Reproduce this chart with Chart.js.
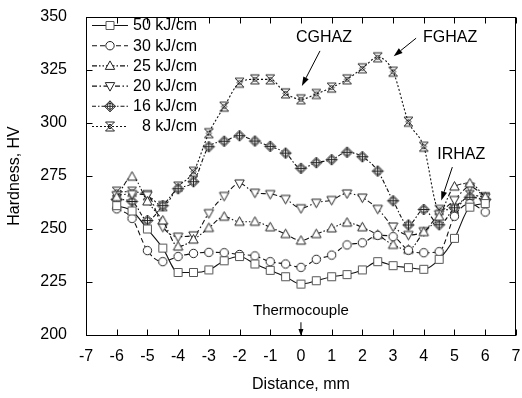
<!DOCTYPE html>
<html><head><meta charset="utf-8">
<script src="https://cdn.jsdelivr.net/npm/chart.js@4/dist/chart.umd.min.js"></script>
<style>html,body{margin:0;padding:0;background:#fff}canvas{display:block}</style>
</head><body>
<canvas id="c" width="522" height="398"></canvas>
<script>
// ---- data ----
const distance = [-6,-5.5,-5,-4.5,-4,-3.5,-3,-2.5,-2,-1.5,-1,-0.5,0,0.5,1,1.5,2,2.5,3,3.5,4,4.5,5,5.5,6];
const hv50 = [261,258.5,250,241,229.5,229.5,230.7,235,237,233.5,230.5,227.5,224,225.6,227.5,228.5,230.7,234.6,232.7,231.8,231,235.7,245.6,260.3,262];
const hv30 = [259.5,255,239.8,234.6,237,238.5,239,238.8,238,237.3,234.6,233.5,231.9,235.7,237.7,242.5,243.5,247,246.4,240,238.8,239.3,256,262,258];
const hv25 = [265,274.7,263,254,241.7,245,250.5,255.8,253.4,253.4,250.8,247.6,244.5,247.6,250.3,253,250.8,247.2,242.5,240.2,248.5,255.8,270,271.5,265];
const hv20 = [266,266.5,266,251,246.4,247,257.5,265.6,271.5,267.1,266.5,264.2,259.8,262.4,263.7,266.8,264.8,259.5,251.2,247.2,249,257,263.7,270,265];
const hv16 = [264,263,254,261,269,272.3,288.8,291.4,294,291.5,289,285.8,278.6,281.3,282.7,286.2,284.1,277.3,263.3,251.9,259.2,252,260,265,264];
const hv8  = [267.6,267.6,266,260.8,270,277,295.2,307.7,319,320.6,320.6,314,311.2,313.7,316.7,320.6,325.8,331,324.2,300.6,288.8,259,259.5,266,265];
const seriesLabels = ['50 kJ/cm','30 kJ/cm','25 kJ/cm','20 kJ/cm','16 kJ/cm','8 kJ/cm'];
const xTickValues = [-7,-6,-5,-4,-3,-2,-1,0,1,2,3,4,5,6,7];
const yTickValues = [200,225,250,275,300,325,350];
const xTitle = 'Distance, mm';
const yTitle = 'Hardness, HV';
const notes = [
  {text:'CGHAZ', at:[0.75,340.1], from:[0.62,334], to:[0.03,317.5]},
  {text:'FGHAZ', at:[4.86,340.1], from:[3.75,340], to:[3.02,331.5]},
  {text:'IRHAZ', at:[5.22,284.9], from:[4.93,279.2], to:[4.57,263.5]},
  {text:'Thermocouple', at:[0,211.3], from:[0,206], to:[0,199.5], small:true}
];

// ---- styles ----
const FONT = "'Liberation Sans', Arial, Helvetica, sans-serif";
const seriesData = [hv50,hv30,hv25,hv20,hv16,hv8];
const markerTypes = ['square','circle','triUp','triDown','diamondPlus','xbow'];
const dashes = [[],[5,3],[5,2,1.5,2,1.5,2],[5,2.5,1.5,2.5],[4,2,1.5,2],[2,2]];
const target = {left: 86, top: 17, right: 518, bottom: 335};
const fitState = {yWidth: 86, xHeight: 63, padTop: 17, padRight: 4};

function drawMarker(g, type, x, y) {
  g.save();
  g.setLineDash([]);
  g.lineWidth = 1;
  g.strokeStyle = '#222';
  g.fillStyle = '#fff';
  g.beginPath();
  if (type === 'square') {
    g.strokeStyle = '#555';
    g.rect(x-4, y-4, 8, 8); g.fill(); g.stroke();
  } else if (type === 'circle') {
    g.arc(x, y, 4.2, 0, Math.PI*2); g.fill(); g.stroke();
  } else if (type === 'triUp') {
    g.moveTo(x, y-5); g.lineTo(x+4.7, y+3.5); g.lineTo(x-4.7, y+3.5); g.closePath(); g.fill(); g.stroke();
  } else if (type === 'triDown') {
    g.moveTo(x, y+5); g.lineTo(x+4.7, y-3.5); g.lineTo(x-4.7, y-3.5); g.closePath(); g.fill(); g.stroke();
  } else if (type === 'diamondPlus') {
    g.moveTo(x, y-5.5); g.lineTo(x+5.5, y); g.lineTo(x, y+5.5); g.lineTo(x-5.5, y); g.closePath(); g.fill(); g.stroke();
    g.beginPath(); g.arc(x, y, 3, 0, Math.PI*2); g.stroke();
    g.beginPath(); g.moveTo(x-5.5, y); g.lineTo(x+5.5, y); g.moveTo(x, y-5.5); g.lineTo(x, y+5.5); g.stroke();
  } else if (type === 'xbow') {
    g.moveTo(x-4.5, y-4.5); g.lineTo(x+4.5, y+4.5);
    g.moveTo(x+4.5, y-4.5); g.lineTo(x-4.5, y+4.5);
    g.moveTo(x-4.5, y-4.5); g.lineTo(x+4.5, y-4.5);
    g.moveTo(x-4.5, y+4.5); g.lineTo(x+4.5, y+4.5);
    g.stroke();
    g.beginPath(); g.moveTo(x, y-2.5); g.lineTo(x+2.5, y); g.lineTo(x, y+2.5); g.lineTo(x-2.5, y); g.closePath(); g.stroke();
  }
  g.restore();
}
function markerImage(type) {
  const c = document.createElement('canvas');
  c.width = 15; c.height = 15;
  drawMarker(c.getContext('2d'), type, 7.5, 7.5);
  return c;
}

const datasets = seriesData.map((arr, i) => ({
  label: seriesLabels[i],
  data: distance.map((d, j) => ({x: d, y: arr[j]})),
  borderColor: '#111',
  borderWidth: 1.1,
  borderDash: dashes[i],
  tension: 0.3,
  cubicInterpolationMode: 'monotone',
  pointStyle: markerImage(markerTypes[i]),
  pointRadius: 5,
  fill: false
}));

function arrow(g, x1, y1, x2, y2, hl, hw) {
  const a = Math.atan2(y2-y1, x2-x1);
  const bx = x2 - hl*Math.cos(a), by = y2 - hl*Math.sin(a);
  g.beginPath(); g.moveTo(x1, y1); g.lineTo(bx, by); g.stroke();
  g.beginPath();
  g.moveTo(x2, y2);
  g.lineTo(bx + hw*Math.sin(a), by - hw*Math.cos(a));
  g.lineTo(bx - hw*Math.sin(a), by + hw*Math.cos(a));
  g.closePath(); g.fill();
}

const decor = {
  id: 'decor',
  afterDraw(chart) {
    const g = chart.ctx, a = chart.chartArea, xs = chart.scales.x, ys = chart.scales.y;
    g.save();
    g.strokeStyle = '#000'; g.fillStyle = '#000'; g.lineWidth = 1;
    const L = Math.round(a.left)+0.5, R = Math.round(a.right)-0.5, T = Math.round(a.top)+0.5, B = Math.round(a.bottom)+0.5;
    g.strokeRect(L, T, R-L, B-T);
    g.beginPath();
    xTickValues.forEach(v => {
      const px = Math.round(xs.getPixelForValue(v)) + 0.5;
      g.moveTo(px, B); g.lineTo(px, B-6);
      g.moveTo(px, T); g.lineTo(px, T+6);
    });
    yTickValues.forEach(v => {
      const py = Math.round(ys.getPixelForValue(v)) + 0.5;
      g.moveTo(L, py); g.lineTo(L+6, py);
      g.moveTo(R, py); g.lineTo(R-6, py);
    });
    g.stroke();
    // legend
    g.font = '16px ' + FONT;
    g.textBaseline = 'middle';
    g.textAlign = 'right';
    seriesLabels.forEach((lab, i) => {
      const y = a.top + 8.5 + i*20.2;
      g.save();
      g.strokeStyle = '#111'; g.lineWidth = 1.1;
      g.setLineDash(dashes[i]);
      g.beginPath(); g.moveTo(a.left+6, y); g.lineTo(a.left+42, y); g.stroke();
      g.restore();
      drawMarker(g, markerTypes[i], a.left+24, y);
      g.fillStyle = '#000';
      g.fillText(lab, a.left+111, y+0.5);
    });
    // annotations
    g.textAlign = 'center';
    notes.forEach(n => {
      g.font = (n.small ? '15px ' : '16px ') + FONT;
      g.fillText(n.text, xs.getPixelForValue(n.at[0]), ys.getPixelForValue(n.at[1]));
      arrow(g, xs.getPixelForValue(n.from[0]), ys.getPixelForValue(n.from[1]),
               xs.getPixelForValue(n.to[0]), ys.getPixelForValue(n.to[1]),
               n.small ? 7 : 9, n.small ? 2.5 : 3);
    });
    g.restore();
  }
};

const tickFont = {family: FONT, size: 16};
const hiddenGrid = (len) => ({display: true, drawOnChartArea: false, drawTicks: true, tickLength: len, color: 'rgba(0,0,0,0)', tickColor: 'rgba(0,0,0,0)'});
const chart = new Chart(document.getElementById('c'), {
  type: 'line',
  data: {datasets},
  options: {
    responsive: false,
    animation: false,
    layout: {padding: {left: 0, right: fitState.padRight, top: fitState.padTop, bottom: 0}},
    plugins: {legend: {display: false}, tooltip: {enabled: false}},
    scales: {
      x: {
        type: 'linear', min: -7, max: 7,
        afterBuildTicks: s => { s.ticks = xTickValues.map(v => ({value: v})); },
        ticks: {color: '#000', font: tickFont, padding: 0, maxRotation: 0, autoSkip: false, callback: v => String(v)},
        grid: hiddenGrid(12), border: {display: false},
        title: {display: true, text: xTitle, color: '#000', font: tickFont, padding: {top: 0, bottom: 4}},
        afterFit: s => { s.height = fitState.xHeight; }
      },
      y: {
        min: 200, max: 350,
        afterBuildTicks: s => { s.ticks = yTickValues.map(v => ({value: v})); },
        ticks: {color: '#000', font: tickFont, padding: 0, callback: v => String(v)},
        grid: hiddenGrid(19), border: {display: false},
        title: {display: true, text: yTitle, color: '#000', font: tickFont, padding: {top: 5, bottom: 0}},
        afterFit: s => { s.width = fitState.yWidth; }
      }
    }
  },
  plugins: [decor]
});
// settle the plot area onto the reference frame
for (let k = 0; k < 5; k++) {
  const a = chart.chartArea;
  const dl = target.left - a.left, dt = target.top - a.top, dr = target.right - a.right, db = target.bottom - a.bottom;
  if (Math.abs(dl) + Math.abs(dt) + Math.abs(dr) + Math.abs(db) < 0.3) break;
  fitState.yWidth += dl;
  fitState.padTop += dt;
  fitState.padRight -= dr;
  fitState.xHeight -= db;
  chart.options.layout.padding = {left: 0, right: fitState.padRight, top: fitState.padTop, bottom: 0};
  chart.update();
}
</script>
</body></html>
